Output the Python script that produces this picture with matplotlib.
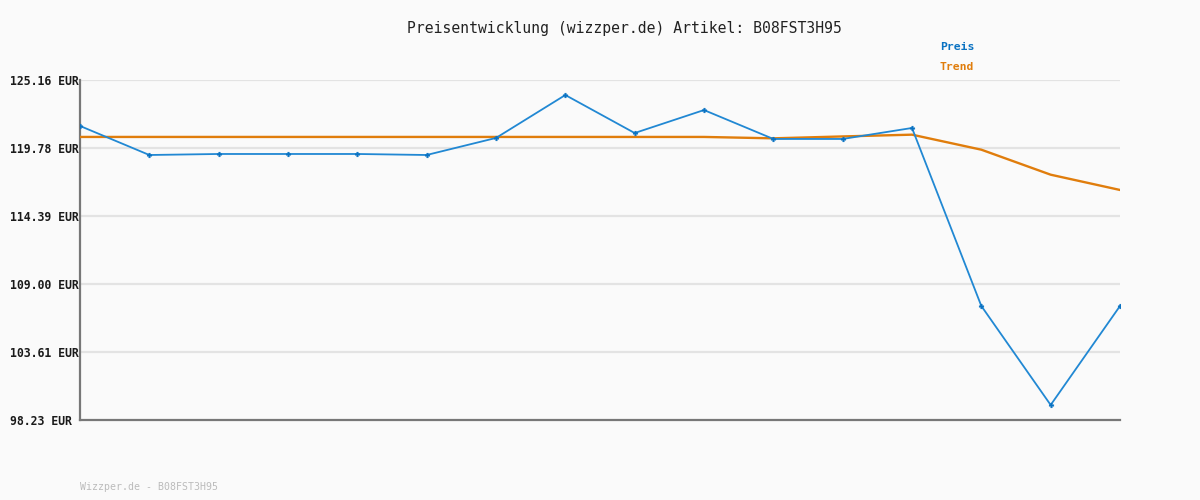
import matplotlib
matplotlib.use("Agg")
import matplotlib.pyplot as plt

# Data
preis = [121.52, 119.22, 119.30, 119.30, 119.30, 119.22, 120.57, 123.97,
         120.96, 122.78, 120.49, 120.49, 121.36, 107.26, 99.42, 107.26]
trend = [120.65, 120.65, 120.65, 120.65, 120.65, 120.65, 120.65, 120.65,
         120.65, 120.65, 120.54, 120.69, 120.83, 119.64, 117.66, 116.45]
yticks = [98.23, 103.61, 109.00, 114.39, 119.78, 125.16]
ytick_labels = ["98.23 EUR", "103.61 EUR", "109.00 EUR", "114.39 EUR", "119.78 EUR", "125.16 EUR"]
title = "Preisentwicklung (wizzper.de) Artikel: B08FST3H95"
watermark = "Wizzper.de - B08FST3H95"

bg = "#fafafa"
blue = "#2188d3"
blue_dark = "#0a72c2"
orange = "#e07d0c"

fig = plt.figure(figsize=(12, 5), dpi=100, facecolor=bg)
ax = fig.add_axes([80/1200, 80/500, 1040/1200, 340/500], facecolor=bg)

x = list(range(len(preis)))
ax.plot(x, trend, color=orange, lw=1.7, zorder=3)
ax.plot(x, preis, color=blue, lw=1.3, zorder=4, marker='P', markersize=3.5,
        markerfacecolor=blue_dark, markeredgecolor=blue_dark, markeredgewidth=0.2)

ax.set_xlim(0, len(preis) - 1)
ax.set_ylim(yticks[0], yticks[-1])
ax.set_xticks([])
ax.set_yticks(yticks)
ax.set_yticklabels(ytick_labels, fontfamily="DejaVu Sans Mono", fontweight="bold",
                   fontsize=8.3, color="#1a1a1a")
ax.tick_params(axis='y', length=0, pad=50.4)
for lbl in ax.get_yticklabels():
    lbl.set_horizontalalignment('left')

for yv in yticks[1:]:
    ax.axhline(yv, color="#e3e3e3", lw=1.6, zorder=1)

for s in ['top', 'right']:
    ax.spines[s].set_visible(False)
for s in ['left', 'bottom']:
    ax.spines[s].set_color("#777777")
    ax.spines[s].set_linewidth(1.6)

fig.text(624/1200, 1 - 28/500, title, ha='center', va='center',
         fontfamily="DejaVu Sans Mono", fontsize=10.6, color="#222222")
fig.text(940/1200, 1 - 47/500, "Preis", ha='left', va='center',
         fontfamily="DejaVu Sans Mono", fontweight="bold", fontsize=8.2, color=blue_dark)
fig.text(940/1200, 1 - 67/500, "Trend", ha='left', va='center',
         fontfamily="DejaVu Sans Mono", fontweight="bold", fontsize=8.2, color=orange)
fig.text(80/1200, 1 - 487/500, watermark, ha='left', va='center',
         fontfamily="DejaVu Sans Mono", fontsize=7.1, color="#bbbbbb")

fig.savefig("out.png", dpi=100, facecolor=bg)
